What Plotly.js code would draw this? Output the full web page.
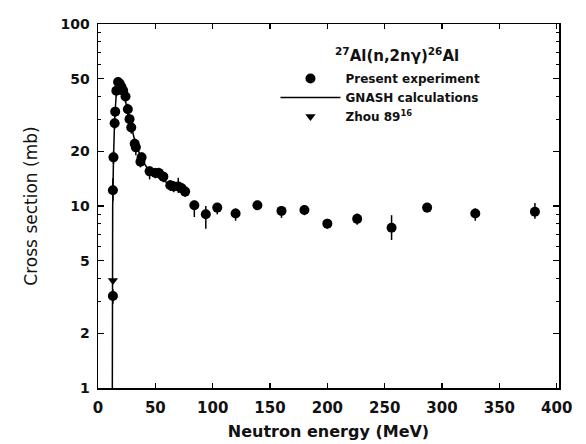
<!DOCTYPE html>
<html>
<head>
<meta charset="utf-8">
<script src="https://cdn.plot.ly/plotly-3.0.1.min.js"></script>
<style>html,body{margin:0;padding:0;background:#fff;}#chart{width:586px;height:444px;}</style>
</head>
<body>
<div id="chart"></div>
<script>
// Present experiment
const expEnergy = [13, 13, 13.5, 14.5, 15, 16, 17.5, 19, 20.5, 22, 24, 26, 27.5, 29, 32, 33, 37, 38, 45, 50, 53, 57, 63, 66, 70, 73, 76, 84, 94, 104, 120, 139, 160, 180, 200, 226, 256, 287, 329, 381];
const expSigma  = [3.2, 12.2, 18.5, 28.5, 33, 43, 48, 47, 45, 43, 40, 34, 30, 27, 22, 21, 17.5, 18.5, 15.5, 15.2, 15.2, 14.5, 13, 12.8, 12.8, 12.5, 12, 10.1, 9.0, 9.8, 9.1, 10.1, 9.4, 9.5, 8.0, 8.5, 7.6, 9.8, 9.1, 9.3];
const expErrUp  = [0.3, 2.0, 1.5, 2, 2, 3, 3, 3, 3, 3, 3, 2.5, 2, 2, 1.5, 1.5, 1.2, 1.2, 1.0, 1.0, 1.0, 1.0, 0.9, 0.9, 1.5, 0.9, 0.8, 0.6, 1.0, 0.6, 0.6, 0.6, 0.6, 0.6, 0.5, 0.6, 1.3, 0.6, 0.6, 1.1];
const expErrDn  = [0.3, 1.5, 1.5, 2, 2, 3, 3, 3, 3, 3, 3, 2.5, 2, 2, 2.0, 2.0, 1.2, 1.2, 1.5, 1.0, 1.0, 1.0, 0.9, 0.9, 1.0, 0.9, 0.8, 1.4, 1.5, 0.8, 0.8, 0.6, 0.8, 0.6, 0.5, 0.6, 1.1, 0.6, 0.8, 0.8];

// GNASH calculations
const gnashEnergy = [12.4, 12.5, 12.8, 13.5, 14.5, 16, 18, 20, 23, 27, 32, 38, 45, 55, 65, 75];
const gnashSigma  = [0.5, 5, 10, 18, 30, 42, 47, 45, 40, 31, 23, 18, 15.5, 14, 13, 12];

// Zhou 89
const zhouEnergy = [13];
const zhouSigma  = [3.9];

const yTickVals = [1, 2, 5, 10, 20, 50, 100];
const yTickText = ['1', '2', '5', '10', '20', '50', '100'];
const xTickVals = [0, 50, 100, 150, 200, 250, 300, 350, 400];

const FAM = 'DejaVu Sans, sans-serif';

const traces = [
  {
    x: gnashEnergy, y: gnashSigma, type: 'scatter', mode: 'lines',
    name: 'GNASH calculations', legendrank: 2,
    line: {color: '#000', width: 1.5}
  },
  {
    x: expEnergy, y: expSigma, type: 'scatter', mode: 'markers',
    name: 'Present experiment', legendrank: 1,
    marker: {symbol: 'circle', size: 10, color: '#000'},
    error_y: {type: 'data', symmetric: false, array: expErrUp, arrayminus: expErrDn,
              color: '#000', thickness: 1.5, width: 0}
  },
  {
    x: zhouEnergy, y: zhouSigma, type: 'scatter', mode: 'markers',
    name: 'Zhou 89<sup>16</sup>', legendrank: 3,
    marker: {symbol: 'triangle-down', size: 9, color: '#000'}
  }
];

const layout = {
  width: 586, height: 444,
  margin: {l: 98, r: 27, t: 24, b: 56},
  paper_bgcolor: '#fff', plot_bgcolor: '#fff',
  font: {family: FAM, color: '#111'},
  showlegend: true,
  legend: {
    x: 0.385, y: 0.89, xanchor: 'left', yanchor: 'top',
    font: {family: FAM, size: 12, color: '#111', weight: 'bold'},
    bgcolor: 'rgba(0,0,0,0)', traceorder: 'normal', tracegroupgap: 0,
    itemwidth: 60
  },
  xaxis: {
    type: 'linear', range: [0, 402],
    tickvals: xTickVals, ticks: 'inside', ticklen: 5, tickwidth: 1.2, tickcolor: '#000',
    showline: true, linecolor: '#000', linewidth: 1.5, mirror: 'ticks',
    showgrid: false, zeroline: false,
    ticklabelstandoff: 5,
    tickfont: {family: FAM, size: 15, color: '#111', weight: 'bold'},
    title: {text: 'Neutron energy (MeV)', font: {family: FAM, size: 16, color: '#111', weight: 'bold'}, standoff: 10}
  },
  yaxis: {
    type: 'log', range: [0, 2],
    tickvals: yTickVals, ticktext: yTickText,
    ticks: 'inside', ticklen: 6, tickwidth: 1.2, tickcolor: '#000',
    minor: {ticks: 'inside', ticklen: 3, tickwidth: 1, tickcolor: '#000',
            tickvals: [3, 4, 6, 7, 8, 9, 30, 40, 60, 70, 80, 90], showgrid: false},
    showline: true, linecolor: '#000', linewidth: 1.5, mirror: 'ticks',
    showgrid: false, zeroline: false,
    ticklabelstandoff: 4,
    tickfont: {family: FAM, size: 14, color: '#111', weight: 'bold'},
    title: {text: 'Cross section (mb)', font: {family: FAM, size: 17, color: '#111'}, standoff: 18}
  },
  annotations: [
    {
      xref: 'paper', yref: 'paper', x: 0.51, y: 0.915, xanchor: 'left', yanchor: 'middle',
      text: '<sup>27</sup>Al(n,2nγ)<sup>26</sup>Al', showarrow: false,
      font: {family: FAM, size: 15, color: '#111', weight: 'bold'}
    }
  ]
};

Plotly.newPlot('chart', traces, layout, {staticPlot: true, displayModeBar: false});
</script>
</body>
</html>
